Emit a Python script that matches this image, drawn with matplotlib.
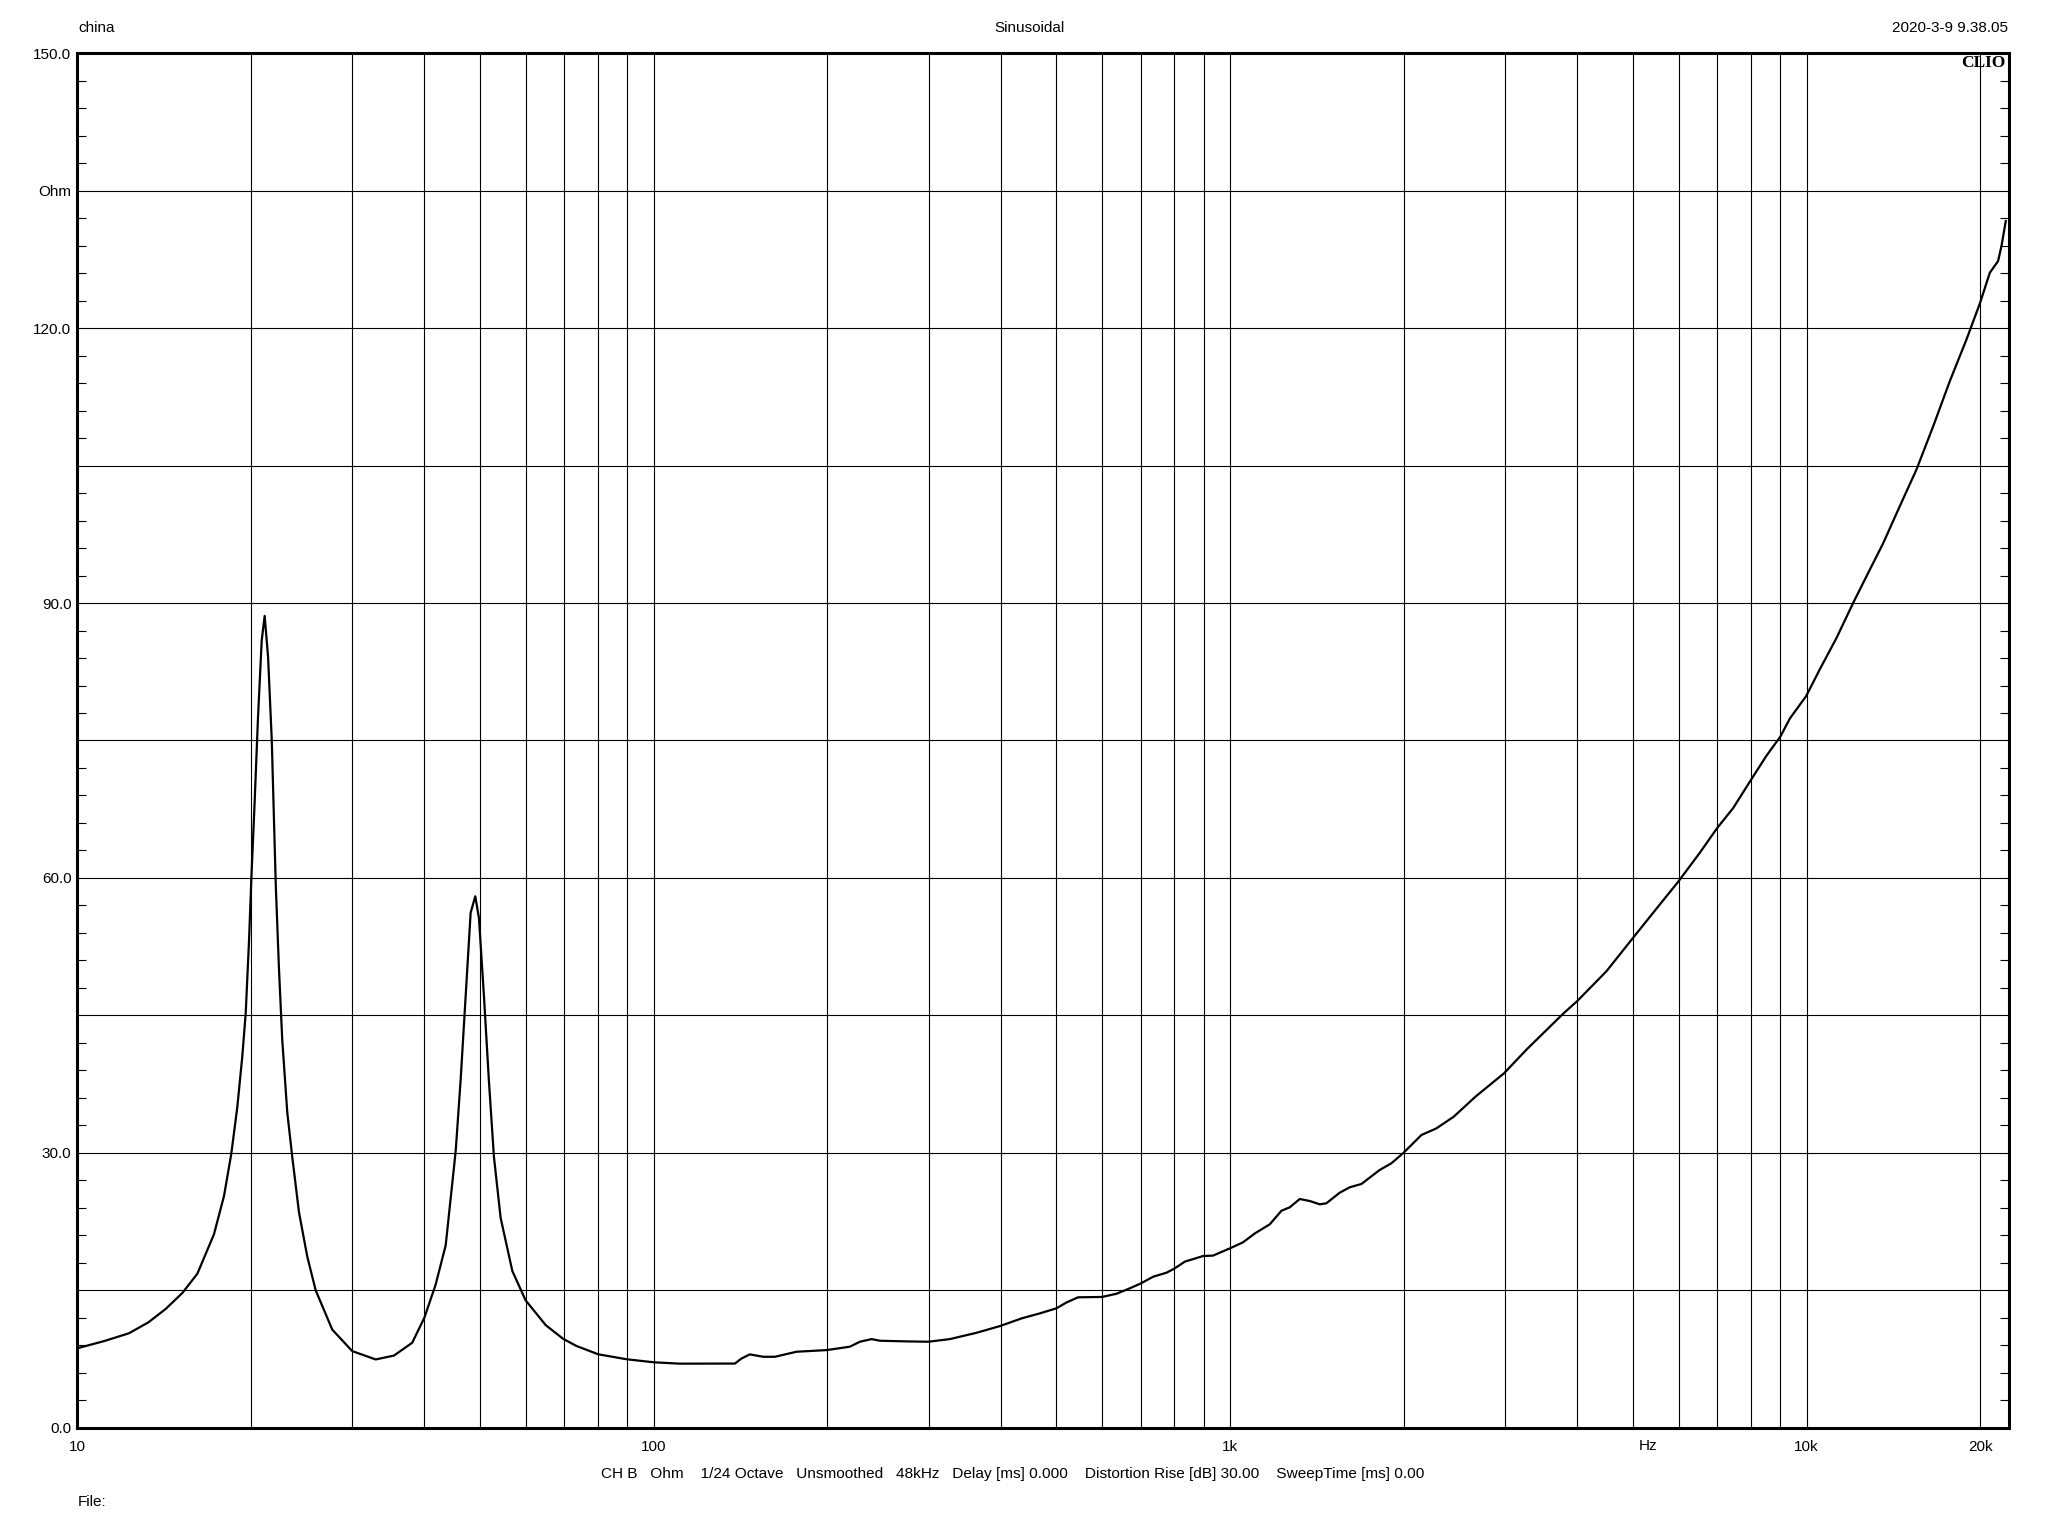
import matplotlib
matplotlib.use("Agg")
import matplotlib.pyplot as plt
from matplotlib.ticker import FixedLocator, NullFormatter

plt.rcParams['font.family'] = ['Liberation Sans', 'DejaVu Sans']

# ---- data ----
freq_hz = [10.0, 11.14, 12.3, 13.3, 14.25, 15.23, 16.17, 17.28, 17.99, 18.52, 18.97, 19.35,
           19.62, 19.88, 20.06, 20.33, 20.6, 20.91, 21.16, 21.45, 21.77, 22.12, 22.4, 22.7,
           23.16, 23.62, 24.27, 25.08, 25.94, 27.72, 30.02, 32.96, 35.46, 38.14, 40.04,
           41.88, 43.6, 45.38, 46.29, 47.22, 48.17, 49.07, 49.8, 50.8, 51.8, 52.86, 54.3,
           56.9, 60.0, 65.0, 69.7, 73.5, 80.2, 89.8, 100, 111, 125.2, 138.4, 142.1, 146.9,
           155, 162.4, 177, 199.6, 219, 228, 238.9, 247, 274.8, 299.5, 326.6, 363.3, 398.8,
           435, 468, 500, 520, 545, 600, 635.5, 670, 701, 735.6, 776, 800, 834.6, 898, 934,
           1000, 1053, 1104, 1172, 1228, 1269, 1321, 1375, 1431, 1469, 1550, 1613, 1690,
           1818, 1905, 1995, 2063, 2147, 2280, 2443, 2665, 2987, 3268, 3782, 3999, 4497,
           5003, 5491, 5988, 6529, 6996, 7460, 7982, 8520, 9009, 9354, 9982, 10541, 11268,
           12040, 12785, 13572, 14508, 15507, 16583, 17718, 18937, 19998, 20785, 21485,
           21779, 22158]
impedance_ohm = [8.66, 9.45, 10.3, 11.5, 12.96, 14.7, 16.8, 21.1, 25.3, 29.9, 35.0, 40.5,
                 45.3, 53.2, 59.8, 68.3, 77.4, 85.9, 88.6, 84.1, 75.0, 59.2, 50.2, 42.3,
                 34.4, 29.6, 23.5, 18.7, 15.0, 10.7, 8.36, 7.45, 7.87, 9.27, 12.0,
                 15.6, 19.9, 30.2, 38.0, 47.1, 56.2, 58.0, 55.6, 47.1, 38.0, 29.6, 22.9,
                 17.1, 13.9, 11.2, 9.7, 8.92, 8.01, 7.47, 7.14, 6.99, 6.99, 7.0, 7.55, 8.0,
                 7.74, 7.74, 8.29, 8.47, 8.84, 9.38, 9.67, 9.49, 9.42, 9.38, 9.67, 10.36, 11.09,
                 11.93, 12.48, 13.03, 13.66, 14.23, 14.27, 14.62, 15.21, 15.76, 16.48, 16.92, 17.35, 18.12, 18.74, 18.78,
                 19.58, 20.23, 21.2, 22.2, 23.68, 24.05, 24.96, 24.74, 24.38, 24.49, 25.65, 26.24, 26.6,
                 28.13, 28.86, 29.95, 30.85, 31.94, 32.67, 33.94, 36.13, 38.68, 41.27, 45.18, 46.55, 49.82,
                 53.48, 56.65, 59.58, 62.75, 65.44, 67.63, 70.56, 73.34, 75.44, 77.40, 79.84, 82.76, 86.18,
                 89.99, 93.27, 96.5, 100.56, 104.56, 109.3, 114.21, 118.76, 122.77, 126.04, 127.32,
                 128.96, 131.69]

x_ticks = [10, 100, 1000, 10000, 20000]
x_tick_labels = ["10", "100", "1k", "10k", "20k"]
x_grid = ([20, 30, 40, 50, 60, 70, 80, 90, 100,
           200, 300, 400, 500, 600, 700, 800, 900, 1000,
           2000, 3000, 4000, 5000, 6000, 7000, 8000, 9000, 10000, 20000])
y_ticks = [0, 30, 60, 90, 120, 135, 150]
y_tick_labels = ["0.0", "30.0", "60.0", "90.0", "120.0", "Ohm", "150.0"]
y_grid = [15, 30, 45, 60, 75, 90, 105, 120, 135]
y_minor = [v for v in range(3, 150, 3) if v % 15 != 0]

W, H = 2048, 1536
fig = plt.figure(figsize=(W / 100, H / 100), dpi=100)
L, R, T, B = 77, 2008.5, 53.3, 1427.7
ax = fig.add_axes([L / W, 1 - B / H, (R - L) / W, (B - T) / H])

ax.set_xscale('log')
ax.set_xlim(10, 22400)
ax.set_ylim(0, 150)

for g in x_grid:
    ax.axvline(g, color='black', lw=0.8, zorder=1)
for g in y_grid:
    ax.axhline(g, color='black', lw=0.8, zorder=1)

ax.plot(freq_hz, impedance_ohm, color='black', lw=1.6, zorder=3,
        solid_joinstyle='round')

for s in ax.spines.values():
    s.set_linewidth(2.2)
    s.set_zorder(4)

ax.xaxis.set_major_locator(FixedLocator(x_ticks))
ax.set_xticklabels(x_tick_labels)
ax.xaxis.set_minor_locator(FixedLocator([]))
ax.xaxis.set_minor_formatter(NullFormatter())
ax.tick_params(axis='x', which='major', length=0, pad=9, labelsize=11)

ax.yaxis.set_major_locator(FixedLocator(y_ticks))
ax.set_yticklabels(y_tick_labels)
ax.yaxis.set_minor_locator(FixedLocator(y_minor))
ax.tick_params(axis='y', which='major', length=0, pad=4, labelsize=11)
ax.tick_params(axis='y', which='minor', length=6.5, width=0.8, direction='in',
               left=True, right=True)

# "Hz" label on the axis
ax.text(5300, -0.0085, "Hz", transform=ax.get_xaxis_transform(), ha='center', va='top',
        fontsize=11)
# CLIO mark
fig.text(2006 / W, 1 - 55 / H, "CLIO", ha='right', va='top', fontsize=12.5,
         fontweight='bold', family=['Liberation Serif', 'DejaVu Serif'])

fig.text(78 / W, 1 - 27.7 / H, "china", ha='left', va='center', fontsize=11)
fig.text(1029 / W, 1 - 27.7 / H, "Sinusoidal", ha='center', va='center', fontsize=11)
fig.text(2008.5 / W, 1 - 27.7 / H, "2020-3-9 9.38.05", ha='right', va='center', fontsize=11)
fig.text(601 / W, 1 - 1474 / H,
         "CH B   Ohm    1/24 Octave   Unsmoothed   48kHz   Delay [ms] 0.000    "
         "Distortion Rise [dB] 30.00    SweepTime [ms] 0.00",
         ha='left', va='center', fontsize=11.1)
fig.text(78 / W, 1 - 1501.7 / H, "File:", ha='left', va='center', fontsize=11)

fig.savefig("out.png", dpi=100, facecolor='white')
